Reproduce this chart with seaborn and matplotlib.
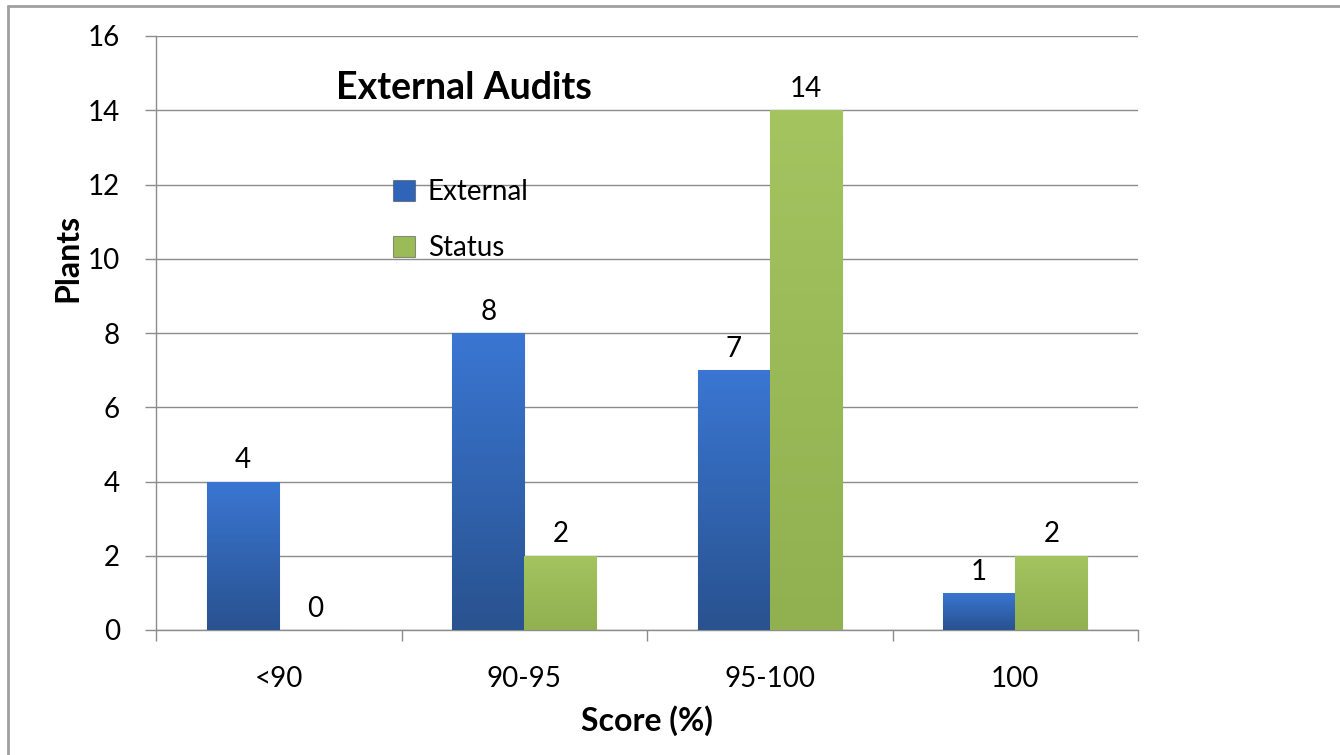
import numpy as np
import pandas as pd
import seaborn as sns
import matplotlib.pyplot as plt
from matplotlib.colors import LinearSegmentedColormap
from matplotlib.lines import Line2D

# --------------------------------------------------
# Data
# --------------------------------------------------
categories = ["<90", "90-95", "95-100", "100"]
external = [4, 8, 7, 1]
status = [0, 2, 14, 2]
series_names = ["External", "Status"]

df = pd.DataFrame({
    "Score": categories * 2,
    "Plants": external + status,
    "Series": [series_names[0]] * len(categories) + [series_names[1]] * len(categories),
})

blue = "#2f64b8"
green = "#9bbb59"
grid_gray = "#8c8c8c"

sns.set_theme(style="white")
plt.rcParams["font.family"] = ["Lato", "DejaVu Sans"]
plt.rcParams["text.color"] = "black"
plt.rcParams["axes.labelcolor"] = "black"

fig = plt.figure(figsize=(13.4, 7.55), dpi=100)
ax = fig.add_axes([156 / 1340, 1 - 630 / 755, (1138 - 156) / 1340, (630 - 36) / 755])

sns.barplot(
    data=df, x="Score", y="Plants", hue="Series",
    palette=[blue, green], width=0.587, saturation=1,
    edgecolor="#44444488", linewidth=0.8, ax=ax, zorder=3,
)

# gradient look on the bars
cmaps = {
    blue: LinearSegmentedColormap.from_list("b", ["#29528f", "#3a76d2"]),
    green: LinearSegmentedColormap.from_list("g", ["#91b050", "#a3c45f"]),
}
grad = np.linspace(0, 1, 100).reshape(-1, 1)
for bar in list(ax.patches):
    h = bar.get_height()
    if h <= 0:
        continue
    fc = "#%02x%02x%02x" % tuple(int(round(c * 255)) for c in bar.get_facecolor()[:3])
    cm = cmaps[blue] if fc == blue else cmaps[green]
    x0 = bar.get_x()
    im = ax.imshow(grad, extent=(x0, x0 + bar.get_width(), 0, h), origin="lower",
                   cmap=cm, aspect="auto", zorder=3.5, interpolation="bicubic")
    im.set_clip_path(bar)

ax.set_xlim(-0.5, 3.5)
ax.set_ylim(0, 16)
ax.set_yticks(np.arange(0, 17, 2))

# value labels
for cont in ax.containers:
    ax.bar_label(cont, fontsize=20, padding=6, color="black", zorder=5)

# grid and spines
ax.yaxis.grid(True, color=grid_gray, linewidth=1)
ax.set_axisbelow(True)
for s in ["top", "right"]:
    ax.spines[s].set_visible(False)
for s in ["left", "bottom"]:
    ax.spines[s].set_color(grid_gray)
    ax.spines[s].set_linewidth(1)

ax.set_xticks(np.arange(-0.5, 4, 1), minor=True)
ax.tick_params(axis="x", which="major", length=0, pad=26, labelsize=20, colors="black")
ax.tick_params(axis="x", which="minor", length=8, width=1, color=grid_gray, direction="out", bottom=True)
ax.tick_params(axis="y", length=8, width=1, color=grid_gray, direction="out", left=True,
               pad=18, labelsize=20, labelcolor="black")

ax.set_xlabel("Score (%)", fontsize=23, fontweight="bold", color="black")
ax.set_ylabel("Plants", fontsize=23, fontweight="bold", color="black")
ax.xaxis.set_label_coords(0.5, -0.152)
ax.xaxis.label.set_va("center")
ax.yaxis.set_label_coords(-0.0896, 0.626)
ax.yaxis.label.set_va("center")

ax.text(0.314, 0.912, "External Audits", transform=ax.transAxes, ha="center", va="center",
        fontsize=27, fontweight="bold", color="black")

leg = ax.legend(loc="center left", bbox_to_anchor=(0.216, 0.69), frameon=False,
                fontsize=20, handlelength=0.8, handleheight=0.8, handletextpad=0.45,
                labelspacing=1.1, labelcolor="black")

# outer chart frame
fig.add_artist(Line2D([8 / 1340, 8 / 1340], [0, 1 - 6 / 755], color="#a0a0a0", lw=2))
fig.add_artist(Line2D([8 / 1340, 1], [1 - 6 / 755, 1 - 6 / 755], color="#a0a0a0", lw=2))

fig.savefig("out.png", dpi=100, facecolor="white")
